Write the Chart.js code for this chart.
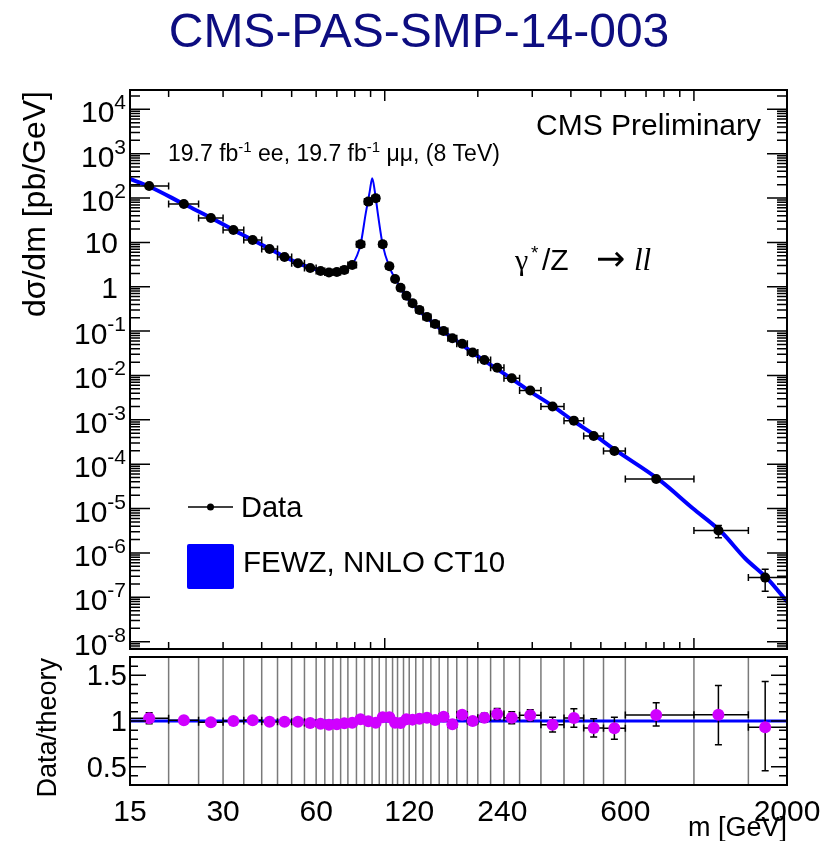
<!DOCTYPE html>
<html>
<head>
<meta charset="utf-8">
<title>CMS-PAS-SMP-14-003</title>
<script src="https://cdn.jsdelivr.net/npm/chart.js@4.4.1/dist/chart.umd.min.js"></script>
<style>
  html, body { margin: 0; padding: 0; background: #fff; }
  body { width: 829px; height: 841px; position: relative; overflow: hidden; }
  canvas { position: absolute; left: 0; }
  #main { top: 0; }
  #ratio { top: 650px; }
</style>
</head>
<body>
<canvas id="main" width="829" height="655"></canvas>
<canvas id="ratio" width="829" height="191"></canvas>
<script>
// Dilepton mass bins [GeV]
const binEdges = [15, 20, 25, 30, 35, 40, 45, 50, 55, 60, 64, 68, 72, 76, 81, 86, 91, 96, 101, 106,
  110, 115, 120, 126, 133, 141, 150, 160, 171, 185, 200, 220, 243, 273, 320, 380, 440, 510, 600,
  1000, 1500, 2000];

// Mass at which each measured point is placed [GeV]
const massPoints = [17.3, 22.4, 27.4, 32.4, 37.4, 42.4, 47.4, 52.4, 57.4, 62, 66, 70, 74, 78.5,
  83.5, 88.5, 93.5, 98.5, 103.5, 108, 112.5, 117.5, 123, 129.5, 137, 145.5, 155, 165.5, 178,
  192.5, 210, 231, 257.5, 295.5, 349, 409, 474, 553, 755, 1200, 1700];

// Measured dsigma/dm [pb/GeV]
const xsecData = [187, 73.5, 35.5, 19.0, 11.3, 7.1, 4.7, 3.4, 2.65, 2.27, 2.1, 2.15, 2.4, 3.1,
  9.1, 83, 99, 9.1, 2.9, 1.49, 0.95, 0.625, 0.425, 0.30, 0.209, 0.145, 0.101, 0.069, 0.052,
  0.033, 0.0224, 0.015, 0.0087, 0.0046, 0.00199, 0.00096, 4.34e-4, 1.99e-4, 4.66e-5, 3.2e-6,
  2.78e-7];

// Data / theory and its uncertainty
const ratio = [1.03, 1.007, 0.985, 1.0, 1.007, 0.993, 0.993, 0.993, 0.978, 0.971, 0.96, 0.964,
  0.975, 0.982, 1.018, 0.996, 0.982, 1.04, 1.04, 0.982, 0.978, 1.018, 1.015, 1.025, 1.036, 1.01,
  1.047, 0.964, 1.069, 1.0, 1.036, 1.076, 1.036, 1.062, 0.96, 1.033, 0.924, 0.92, 1.065, 1.069,
  0.931];
const ratioErrUp = [0.06, 0.02, 0.02, 0.02, 0.02, 0.02, 0.02, 0.02, 0.02, 0.02, 0.02, 0.02, 0.02,
  0.02, 0.02, 0.02, 0.02, 0.02, 0.02, 0.02, 0.02, 0.02, 0.02, 0.02, 0.02, 0.025, 0.025, 0.025,
  0.03, 0.03, 0.05, 0.06, 0.065, 0.06, 0.08, 0.1, 0.1, 0.12, 0.135, 0.32, 0.5];
const ratioErrDown = [0.06, 0.02, 0.02, 0.02, 0.02, 0.02, 0.02, 0.02, 0.02, 0.02, 0.02, 0.02, 0.02,
  0.02, 0.02, 0.02, 0.02, 0.02, 0.02, 0.02, 0.02, 0.02, 0.02, 0.02, 0.02, 0.025, 0.025, 0.025,
  0.03, 0.03, 0.05, 0.06, 0.065, 0.06, 0.08, 0.1, 0.1, 0.12, 0.12, 0.33, 0.475];

// FEWZ NNLO CT10 prediction
const fewzMass = [15, 17.3, 22.4, 27.4, 32.4, 37.4, 42.4, 47.4, 52.4, 57.4, 62, 66, 70, 74, 78.5,
  83.5, 86.8, 89.4, 91.1, 92.9, 95.3, 98.5, 103.5, 108, 112.5, 117.5, 123, 129.4, 136.9, 145.4,
  154.9, 165.4, 177.9, 192.4, 209.8, 231.2, 257.6, 295.6, 348.7, 408.9, 473.7, 553.2, 774.6, 991,
  1225, 1463, 1732, 2000];
const fewzXsec = [270, 182, 73, 36, 19, 11.3, 7.15, 4.73, 3.42, 2.71, 2.34, 2.19, 2.21, 2.46, 3.16,
  8.9, 45, 139, 280, 139, 38, 8.8, 2.8, 1.52, 0.97, 0.615, 0.418, 0.293, 0.202, 0.143, 0.0965,
  0.0715, 0.0487, 0.033, 0.0216, 0.0139, 0.0084, 0.00433, 0.00207, 0.00093, 4.7e-4, 2.16e-4,
  4.38e-5, 1.02e-5, 3.0e-6, 7.6e-7, 2.6e-7, 8e-8];

// Axis labels
const massTicks = [15, 30, 60, 120, 240, 600, 2000];
const xsecDecades = [-8, -7, -6, -5, -4, -3, -2, -1, 0, 1, 2, 3, 4];
const ratioTicks = [0.5, 1, 1.5];

const SANS = "'Liberation Sans', Arial, Helvetica, sans-serif";
const SERIF = "'Liberation Serif', 'Times New Roman', serif";
const BLUE = '#0000ff';
const MAGENTA = '#d000ff';

function setFont(ctx, p) {
  ctx.font = `${p.style || ''} ${p.size}px ${p.family || SANS}`;
}

// Writes a row of text pieces (with optional superscripts) from a baseline;
// a piece with its own x is placed there instead of after the previous one
function drawRich(ctx, pieces, x, y, align) {
  let total = 0;
  pieces.forEach(p => { setFont(ctx, p); p.w = ctx.measureText(p.t).width; total += p.w; });
  let cx = align === 'right' ? x - total : align === 'center' ? x - total / 2 : x;
  ctx.textAlign = 'left';
  ctx.textBaseline = 'alphabetic';
  pieces.forEach(p => {
    setFont(ctx, p);
    if (p.x !== undefined) cx = p.x;
    ctx.fillText(p.t, cx, y - (p.rise || 0));
    cx += p.w;
  });
}

function seg(ctx, x0, y0, x1, y1) {
  ctx.moveTo(x0, y0);
  ctx.lineTo(x1, y1);
}

function drawErrorBars(chart, values, errUp, errDown) {
  const { ctx, chartArea: a, scales: { x, y } } = chart;
  const cap = 3.5;
  ctx.save();
  ctx.beginPath();
  ctx.rect(a.left, a.top, a.right - a.left, a.bottom - a.top);
  ctx.clip();
  ctx.strokeStyle = '#000';
  ctx.lineWidth = 1.5;
  ctx.beginPath();
  values.forEach((v, i) => {
    const px = x.getPixelForValue(massPoints[i]);
    const py = y.getPixelForValue(v);
    const x0 = x.getPixelForValue(binEdges[i]);
    const x1 = x.getPixelForValue(binEdges[i + 1]);
    const yTop = y.getPixelForValue(v + errUp[i]);
    const yBot = y.getPixelForValue(v - errDown[i]);
    seg(ctx, x0, py, x1, py);
    seg(ctx, x0, py - cap, x0, py + cap);
    seg(ctx, x1, py - cap, x1, py + cap);
    seg(ctx, px, yTop, px, yBot);
    seg(ctx, px - cap, yTop, px + cap, yTop);
    seg(ctx, px - cap, yBot, px + cap, yBot);
  });
  ctx.stroke();
  ctx.restore();
}

// Cross-section panel: frame, inward ticks, labels and legend
const mainDecor = {
  id: 'mainDecor',
  afterDatasetDraw(chart, args) {
    if (args.index !== 0) return;
    const up = xsecData.map((v, i) => v * ratioErrUp[i] / ratio[i]);
    const down = xsecData.map((v, i) => v * ratioErrDown[i] / ratio[i]);
    drawErrorBars(chart, xsecData, up, down);
  },
  afterDraw(chart) {
    const { ctx, chartArea: a, scales: { x, y } } = chart;
    ctx.save();
    ctx.strokeStyle = '#000';
    ctx.fillStyle = '#000';
    ctx.lineWidth = 1.5;
    ctx.beginPath();
    for (let e = -9; e <= 4; e++) {
      for (let k = 1; k <= 9; k++) {
        const v = k * Math.pow(10, e);
        if (v < y.min || v > y.max) continue;
        const py = y.getPixelForValue(v);
        const len = k === 1 ? 20 : 10;
        seg(ctx, a.left, py, a.left + len, py);
        seg(ctx, a.right, py, a.right - len, py);
      }
    }
    for (let e = 1; e <= 3; e++) {
      for (let k = 1; k <= 9; k++) {
        const v = k * Math.pow(10, e);
        if (v <= x.min || v >= x.max) continue;
        const px = x.getPixelForValue(v);
        const len = k === 1 ? 11 : 7;
        seg(ctx, px, a.bottom, px, a.bottom - len);
        seg(ctx, px, a.top, px, a.top + len);
      }
    }
    ctx.stroke();
    ctx.lineWidth = 2;
    ctx.strokeRect(a.left, a.top, a.right - a.left, a.bottom - a.top);

    // y tick labels
    xsecDecades.forEach(e => {
      const py = y.getPixelForValue(Math.pow(10, e));
      if (e === 0 || e === 1) {
        drawRich(ctx, [{ t: e === 0 ? '1' : '10', size: 30 }], 118, py + 11, 'right');
      } else {
        drawRich(ctx, [{ t: '10', size: 30 }, { t: String(e), size: 21, rise: 13 }], 126, py + 13, 'right');
      }
    });

    // axis title
    ctx.save();
    ctx.translate(45, 91);
    ctx.rotate(-Math.PI / 2);
    drawRich(ctx, [{ t: 'd\u03c3/dm [pb/GeV]', size: 32 }], 0, 0, 'right');
    ctx.restore();

    // page title
    ctx.fillStyle = '#0d0d80';
    drawRich(ctx, [{ t: 'CMS-PAS-SMP-14-003', size: 48 }], 419, 47, 'center');
    ctx.fillStyle = '#000';

    drawRich(ctx, [{ t: 'CMS Preliminary', size: 30 }], 761, 135, 'right');
    drawRich(ctx, [
      { t: '19.7 fb', size: 23 }, { t: '-1', size: 15, rise: 9 },
      { t: ' ee, 19.7 fb', size: 23 }, { t: '-1', size: 15, rise: 9 },
      { t: ' \u03bc\u03bc, (8 TeV)', size: 23 }
    ], 168, 161, 'left');
    drawRich(ctx, [
      { t: '\u03b3', size: 30, family: SERIF, x: 515 },
      { t: '*', size: 19, rise: 11, x: 531 },
      { t: '/Z', size: 30, x: 542 },
      { t: '\u2192', size: 35, family: "'DejaVu Sans', sans-serif", x: 596 },
      { t: 'll', size: 31, family: SERIF, style: 'italic', x: 634 }
    ], 515, 270, 'left');

    // legend
    ctx.beginPath();
    seg(ctx, 188, 507, 233, 507);
    ctx.lineWidth = 1.5;
    ctx.stroke();
    ctx.beginPath();
    ctx.arc(210.5, 507, 3.5, 0, Math.PI * 2);
    ctx.fill();
    drawRich(ctx, [{ t: 'Data', size: 29 }], 241, 517, 'left');
    ctx.fillStyle = BLUE;
    ctx.beginPath();
    ctx.roundRect(187, 544, 47, 45, 2);
    ctx.fill();
    ctx.fillStyle = '#000';
    drawRich(ctx, [{ t: 'FEWZ, NNLO CT10', size: 29.5 }], 243, 572, 'left');
    ctx.restore();
  }
};

// Ratio panel: bin-edge lines, frame, ticks and labels
const ratioDecor = {
  id: 'ratioDecor',
  beforeDatasetsDraw(chart) {
    const { ctx, chartArea: a, scales: { x } } = chart;
    ctx.save();
    ctx.strokeStyle = '#7a7a7a';
    ctx.lineWidth = 1.5;
    ctx.beginPath();
    binEdges.slice(1, -1).forEach(m => {
      const px = x.getPixelForValue(m);
      seg(ctx, px, a.top, px, a.bottom);
    });
    ctx.stroke();
    ctx.restore();
  },
  afterDatasetDraw(chart, args) {
    if (args.index !== 0) return;
    drawErrorBars(chart, ratio, ratioErrUp, ratioErrDown);
  },
  afterDraw(chart) {
    const { ctx, chartArea: a, scales: { x, y } } = chart;
    ctx.save();
    ctx.strokeStyle = '#000';
    ctx.fillStyle = '#000';
    ctx.lineWidth = 1.5;
    ctx.beginPath();
    for (let k = 3; k <= 17; k++) {
      const py = y.getPixelForValue(k / 10);
      const len = k % 5 === 0 ? 16 : 8;
      seg(ctx, a.left, py, a.left + len, py);
      seg(ctx, a.right, py, a.right - len, py);
    }
    ctx.stroke();
    ctx.lineWidth = 2;
    ctx.strokeRect(a.left, a.top, a.right - a.left, a.bottom - a.top);

    ratioTicks.forEach(v => {
      drawRich(ctx, [{ t: String(v), size: 29 }], 127, y.getPixelForValue(v) + 10, 'right');
    });
    massTicks.forEach(m => {
      drawRich(ctx, [{ t: String(m), size: 30 }], x.getPixelForValue(m), 171, 'center');
    });
    drawRich(ctx, [{ t: 'm [GeV]', size: 27 }], 787, 186, 'right');

    ctx.save();
    ctx.translate(56, 8);
    ctx.rotate(-Math.PI / 2);
    drawRich(ctx, [{ t: 'Data/theory', size: 27 }], 0, 0, 'right');
    ctx.restore();
    ctx.restore();
  }
};

const commonOptions = {
  responsive: false,
  animation: false,
  events: [],
  plugins: { legend: { display: false }, tooltip: { enabled: false } }
};

new Chart(document.getElementById('main'), {
  type: 'scatter',
  data: {
    datasets: [
      {
        label: 'FEWZ, NNLO CT10',
        data: fewzMass.map((m, i) => ({ x: m, y: fewzXsec[i] })),
        showLine: true,
        borderColor: BLUE,
        borderWidth: 4,
        pointRadius: 0,
        cubicInterpolationMode: 'monotone',
        segment: {
          borderWidth: c => (c.p0.parsed.x >= 74 && c.p1.parsed.x <= 112.5 ? 2 : 4)
        },
        order: 2
      },
      {
        label: 'Data',
        data: massPoints.map((m, i) => ({ x: m, y: xsecData[i] })),
        pointRadius: 5,
        pointBackgroundColor: '#000',
        pointBorderWidth: 0,
        order: 1
      }
    ]
  },
  options: {
    ...commonOptions,
    layout: { padding: { left: 130, right: 42, top: 90, bottom: 6 } },
    scales: {
      x: { type: 'logarithmic', min: 15, max: 2000, display: false },
      y: { type: 'logarithmic', min: 6.84e-9, max: 2.72e4, display: false }
    }
  },
  plugins: [mainDecor]
});

new Chart(document.getElementById('ratio'), {
  type: 'scatter',
  data: {
    datasets: [
      {
        label: 'theory',
        data: [{ x: 15, y: 1 }, { x: 2000, y: 1 }],
        showLine: true,
        borderColor: BLUE,
        borderWidth: 3,
        pointRadius: 0,
        order: 2
      },
      {
        label: 'Data/theory',
        data: massPoints.map((m, i) => ({ x: m, y: ratio[i] })),
        pointRadius: 6,
        pointBackgroundColor: MAGENTA,
        pointBorderWidth: 0,
        order: 1
      }
    ]
  },
  options: {
    ...commonOptions,
    layout: { padding: { left: 130, right: 42, top: 7, bottom: 56 } },
    scales: {
      x: { type: 'logarithmic', min: 15, max: 2000, display: false },
      y: { type: 'linear', min: 0.3, max: 1.7, display: false }
    }
  },
  plugins: [ratioDecor]
});
</script>
</body>
</html>
